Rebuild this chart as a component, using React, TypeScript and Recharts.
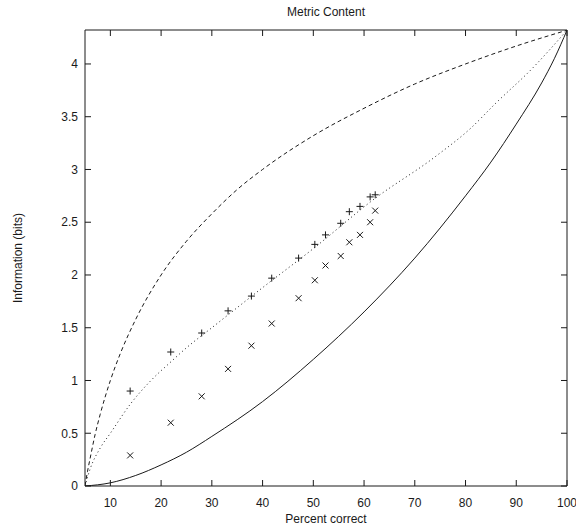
import React from 'react';
import { ComposedChart, Line, Scatter, XAxis, YAxis } from 'recharts';

// percent correct for the measured points (same x for both sets)
const pctCorrect = [13.9, 21.9, 28.0, 33.2, 37.8, 41.8, 47.1, 50.3, 52.4, 55.4, 57.1, 59.2, 61.2, 62.2];
const plusInfo = [0.9, 1.27, 1.45, 1.66, 1.8, 1.97, 2.16, 2.29, 2.38, 2.49, 2.6, 2.65, 2.74, 2.76];
const crossInfo = [0.29, 0.6, 0.85, 1.11, 1.33, 1.54, 1.78, 1.95, 2.09, 2.18, 2.31, 2.38, 2.5, 2.61];

// upper bound (dashed)
const upperX = [5, 5.5, 6, 7, 8, 10, 12, 15, 20, 25, 30, 35, 40, 50, 60, 70, 80, 90, 100];
const upperY = [0, 0.14, 0.26, 0.49, 0.68, 1.0, 1.26, 1.58, 2.0, 2.32, 2.58, 2.81, 3.0, 3.32, 3.58, 3.81, 4.0, 4.17, 4.32];

// middle curve (dotted)
const midX = [5, 6, 8, 10, 14, 18, 22, 25, 30, 40, 50, 62, 74, 81, 86, 93, 100];
const midY = [0, 0.16, 0.36, 0.5, 0.78, 1.0, 1.18, 1.31, 1.5, 1.88, 2.25, 2.72, 3.12, 3.39, 3.63, 3.95, 4.32];

// lower bound (solid)
const lowX = [5, 10, 15, 20, 25, 30, 40, 50, 60, 70, 80, 85, 90, 95, 97.5, 100];
const lowY = [0, 0.03, 0.1, 0.2, 0.32, 0.47, 0.8, 1.2, 1.65, 2.16, 2.75, 3.07, 3.43, 3.82, 4.05, 4.32];

const xTicks = [10, 20, 30, 40, 50, 60, 70, 80, 90, 100];
const yTicks = [0, 0.5, 1, 1.5, 2, 2.5, 3, 3.5, 4];

const zip = (xs: number[], ys: number[]) => xs.map((x, i) => ({ x, y: ys[i] }));

const upperData = zip(upperX, upperY);
const midData = zip(midX, midY);
const lowData = zip(lowX, lowY);
const plusData = zip(pctCorrect, plusInfo);
const crossData = zip(pctCorrect, crossInfo);

const INK = '#1a1a1a';
const FONT = '"Liberation Sans", Arial, sans-serif';

const PlusMark = (props: any) => {
  const { cx, cy } = props;
  const s = 3.5;
  return (
    <g stroke={INK} strokeWidth={1}>
      <line x1={cx - s} y1={cy} x2={cx + s} y2={cy} />
      <line x1={cx} y1={cy - s} x2={cx} y2={cy + s} />
    </g>
  );
};

const CrossMark = (props: any) => {
  const { cx, cy } = props;
  const s = 3;
  return (
    <g stroke={INK} strokeWidth={1}>
      <line x1={cx - s} y1={cy - s} x2={cx + s} y2={cy + s} />
      <line x1={cx - s} y1={cy + s} x2={cx + s} y2={cy - s} />
    </g>
  );
};

const tickStyle = { fontSize: 12, fill: INK, fontFamily: FONT };

export default function App() {
  return (
    <div style={{ position: 'fixed', left: 0, top: 0, width: 576, height: 525, background: '#fff', fontFamily: FONT }}>
      <div
        style={{
          position: 'absolute',
          left: 85,
          width: 482,
          top: 5,
          textAlign: 'center',
          fontSize: 12,
          color: INK,
        }}
      >
        Metric Content
      </div>
      <ComposedChart width={576} height={525} margin={{ top: 29, right: 8, bottom: 0, left: 0 }}>
        <XAxis
          dataKey="x"
          type="number"
          domain={[5, 100]}
          ticks={xTicks}
          interval={0}
          allowDataOverflow
          height={39}
          stroke={INK}
          tickSize={-6}
          tickMargin={18}
          tick={tickStyle}
          label={{ value: 'Percent correct', position: 'insideBottom', offset: 2, style: { fontSize: 12, fill: INK, fontFamily: FONT } }}
        />
        <XAxis
          xAxisId="top"
          orientation="top"
          dataKey="x"
          type="number"
          domain={[5, 100]}
          ticks={xTicks}
          interval={0}
          allowDataOverflow
          height={1}
          stroke={INK}
          tickSize={-6}
          tickFormatter={() => ''}
        />
        <YAxis
          type="number"
          domain={[0, 4.3219]}
          ticks={yTicks}
          interval={0}
          allowDataOverflow
          width={85}
          stroke={INK}
          tickSize={-6}
          tickMargin={13}
          tick={tickStyle}
          label={{
            value: 'Information (bits)',
            angle: -90,
            position: 'insideLeft',
            offset: 18,
            style: { textAnchor: 'middle', fontSize: 12, fill: INK, fontFamily: FONT },
          }}
        />
        <YAxis
          yAxisId="right"
          orientation="right"
          type="number"
          domain={[0, 4.3219]}
          ticks={yTicks}
          interval={0}
          allowDataOverflow
          width={1}
          stroke={INK}
          tickSize={-6}
          tickFormatter={() => ''}
        />
        <Line
          data={upperData}
          dataKey="y"
          type="monotone"
          stroke={INK}
          strokeWidth={1}
          strokeDasharray="4 3"
          dot={false}
          activeDot={false}
          isAnimationActive={false}
        />
        <Line
          data={midData}
          dataKey="y"
          type="monotone"
          stroke={INK}
          strokeWidth={1}
          strokeDasharray="1 3"
          dot={false}
          activeDot={false}
          isAnimationActive={false}
        />
        <Line
          data={lowData}
          dataKey="y"
          type="monotone"
          stroke={INK}
          strokeWidth={1}
          dot={false}
          activeDot={false}
          isAnimationActive={false}
        />
        <Scatter data={plusData} dataKey="y" shape={PlusMark} isAnimationActive={false} />
        <Scatter data={crossData} dataKey="y" shape={CrossMark} isAnimationActive={false} />
      </ComposedChart>
    </div>
  );
}
